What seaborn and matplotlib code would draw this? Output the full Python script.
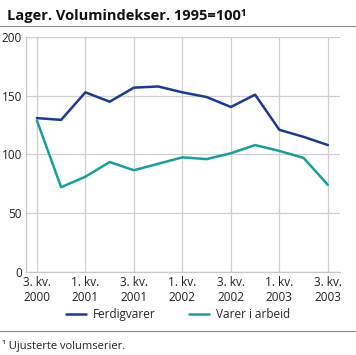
import numpy as np
import pandas as pd
import matplotlib
matplotlib.use("Agg")
import matplotlib.pyplot as plt
import seaborn as sns

# --- data ---
quarters = ["3. kv.\n2000", "4. kv.\n2000", "1. kv.\n2001", "2. kv.\n2001", "3. kv.\n2001",
            "4. kv.\n2001", "1. kv.\n2002", "2. kv.\n2002", "3. kv.\n2002", "4. kv.\n2002",
            "1. kv.\n2003", "2. kv.\n2003", "3. kv.\n2003"]
ferdigvarer = [131, 129.5, 153, 145, 157, 158, 153, 149, 140.5, 151, 121, 115, 108]
varer_i_arbeid = [129, 72, 81, 93.5, 86.5, 92, 97.5, 96, 101, 108, 103, 97, 74]
series_names = ["Ferdigvarer", "Varer i arbeid"]
colors = ["#1c3a8f", "#1b9e9a"]

df = pd.DataFrame({"q": np.arange(len(quarters)),
                   series_names[0]: ferdigvarer,
                   series_names[1]: varer_i_arbeid})
long = df.melt(id_vars="q", var_name="serie", value_name="indeks")

sns.set_theme(style="white")
plt.rcParams["font.family"] = ["Open Sans", "DejaVu Sans"]

fig = plt.figure(figsize=(3.56, 3.55), dpi=100)
ax = fig.add_axes([0.073, 0.235, 0.882, 0.66])

sns.lineplot(data=long, x="q", y="indeks", hue="serie", palette=colors,
             linewidth=1.8, ax=ax, legend=False)

ax.set_ylim(0, 200)
ax.set_yticks([0, 50, 100, 150, 200])
ax.set_xlim(-0.45, len(quarters) - 0.5)
major = np.arange(0, len(quarters), 2)
ax.set_xticks(major)
ax.set_xticklabels([quarters[i] for i in major])
ax.set_xticks(np.arange(1, len(quarters), 2), minor=True)
ax.grid(True, which="major", color="#d0d0d0", linewidth=0.9)
ax.set_axisbelow(True)
ax.set_xlabel("")
ax.set_ylabel("")
for s in ["top", "right"]:
    ax.spines[s].set_visible(False)
for s in ["left", "bottom"]:
    ax.spines[s].set_color("#c8c8c8")
    ax.spines[s].set_linewidth(0.9)
ax.tick_params(axis="x", which="both", direction="in", length=5, color="#c8c8c8",
               labelsize=8.5, pad=3, labelcolor="#222222")
ax.tick_params(axis="y", length=0, labelsize=8.5, pad=3, labelcolor="#222222")

# legend
handles = [plt.Line2D([], [], color=c, linewidth=1.8) for c in colors]
fig.legend(handles, series_names, loc="center", bbox_to_anchor=(0.5, 0.115),
           ncol=2, frameon=False, fontsize=8.5, handlelength=1.7, columnspacing=2.8,
           handletextpad=0.6)

fig.text(0.02, 0.955, "Lager. Volumindekser. 1995=100¹", fontsize=10.5,
         fontweight="bold", ha="left", va="center", color="#111111")
fig.add_artist(plt.Line2D([0, 1], [0.928, 0.928], color="#888888", linewidth=0.8))
fig.add_artist(plt.Line2D([0, 1], [0.068, 0.068], color="#888888", linewidth=0.8))
fig.text(0.005, 0.025, "¹ Ujusterte volumserier.", fontsize=8, ha="left",
         va="center", color="#222222")

fig.savefig("out.png", dpi=100)
